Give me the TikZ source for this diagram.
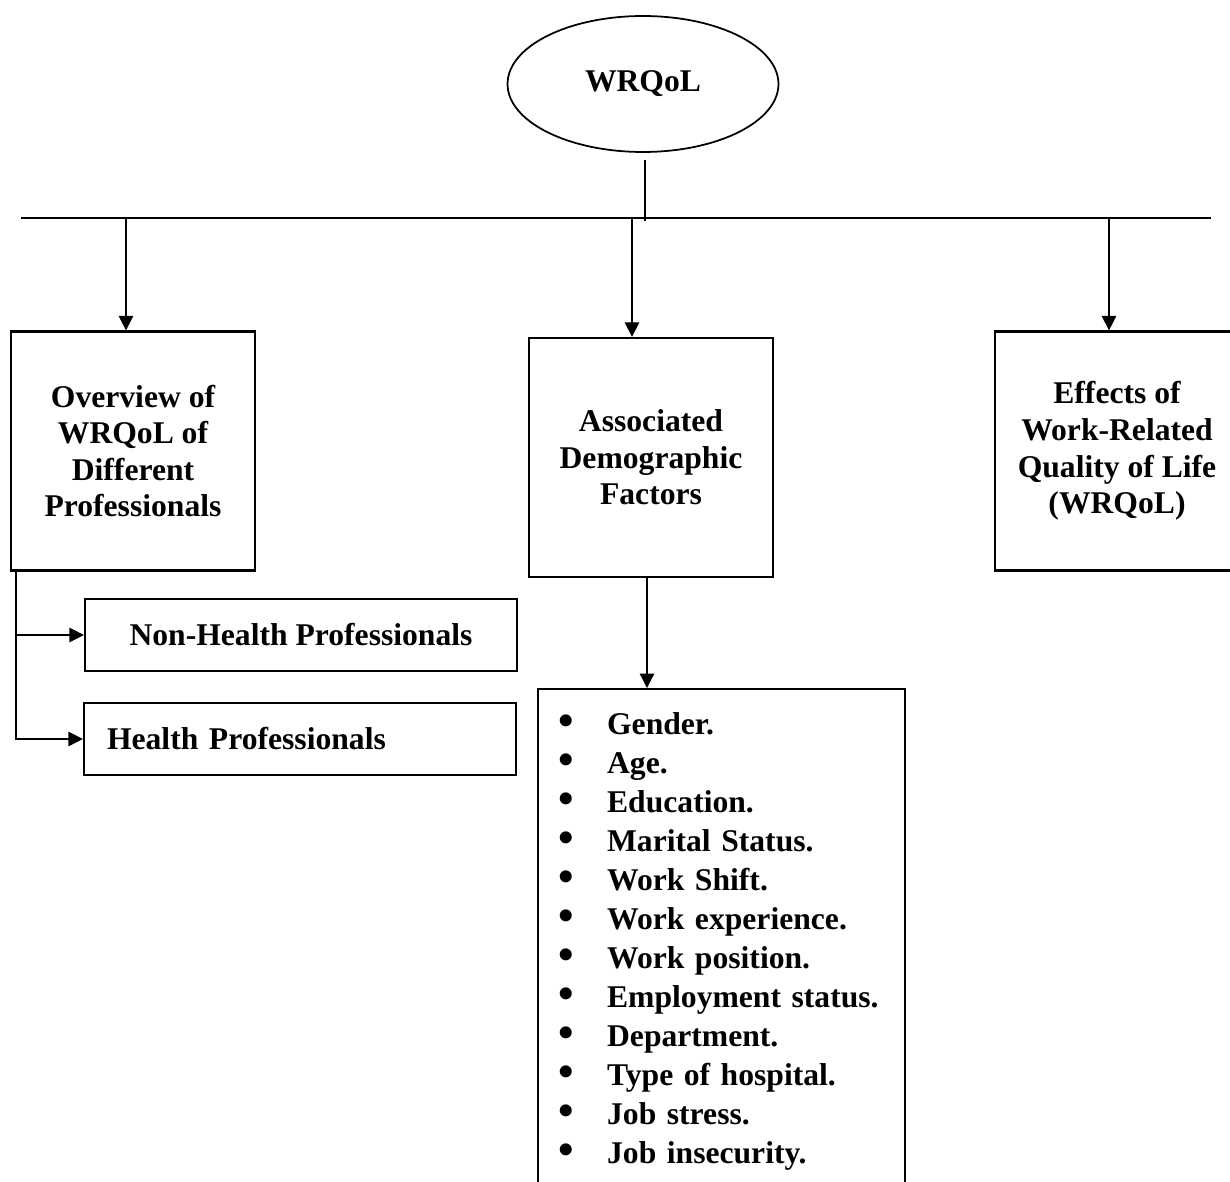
\documentclass[tikz,border=0pt]{standalone}
\usepackage{fontspec}
\setmainfont{Liberation Serif}
\usepackage{tikz}
\usetikzlibrary{arrows.meta, shapes.geometric, positioning}

\newcommand{\factoritem}[1]{\makebox[0.98cm][l]{\raisebox{-0.6pt}{\scalebox{1.4}{\textbullet}}}#1}

\begin{document}
\begin{tikzpicture}[x=0.02cm, y=-0.02cm,
  topic/.style={draw, ellipse, line width=1pt, minimum width=5.42cm, minimum height=2.72cm,
    font=\fontsize{18}{21}\selectfont\bfseries},
  box/.style={draw, line width=1.3pt, minimum width=4.88cm, minimum height=4.78cm, align=center,
    font=\fontsize{18}{20.8}\selectfont\bfseries},
  subbox/.style={draw, line width=1.3pt, minimum width=8.64cm, minimum height=1.44cm,
    font=\fontsize{18}{21}\selectfont\bfseries},
  listbox/.style={draw, line width=1.3pt, inner xsep=0.40cm, inner ysep=0.46cm, text width=6.54cm,
    align=left, font=\fontsize{18}{22.2}\selectfont\bfseries},
  arr/.style={-{Triangle[length=2.9mm, width=2.9mm]}, line width=0.7pt},
  link/.style={line width=0.7pt}]
  \useasboundingbox (0,0) rectangle (1230,1182);
  \clip (0,0) rectangle (1230,1182);

  \node[topic] (wrqol) at (643,84) {WRQoL};
  \coordinate (busL) at (21,218); \coordinate (busR) at (1211,218);
  \coordinate (stem) at (645,221);
  \draw[link] (busL) -- (busR);
  \draw[link, shorten <=0.14cm] (wrqol.south -| stem) -- (stem);

  \node[box] (overview) at (133,451) {Overview of\\WRQoL of\\Different\\Professionals};
  \node[box] (demog) at (651,457.5) {Associated\\Demographic\\Factors};
  \node[box] (effects) at (1117,451) {Effects of\\Work-Related\\Quality of Life\\(WRQoL)};

  \coordinate (d1) at (126,218); \coordinate (d2) at (632,218); \coordinate (d3) at (1109,218);
  \draw[arr] (d1) -- (d1 |- overview.north);
  \draw[arr] (d2) -- (d2 |- demog.north);
  \draw[arr] (d3) -- (d3 |- effects.north);

  \node[subbox] (nonhealth) at (301,635) {Non-Health Professionals};
  \node[subbox, inner xsep=0.46cm, text width=7.72cm, align=left] (health) at (300,739) {Health Professionals};
  \coordinate (trunk) at (16,570);
  \draw[arr] (trunk) |- (nonhealth.west);
  \draw[arr] (trunk) |- (health.west);

  \node[listbox, anchor=north west] (factors) at (537,688) {%
    \factoritem{Gender.}\\ \factoritem{Age.}\\ \factoritem{Education.}\\
    \factoritem{Marital Status.}\\ \factoritem{Work Shift.}\\ \factoritem{Work experience.}\\
    \factoritem{Work position.}\\ \factoritem{Employment status.}\\ \factoritem{Department.}\\
    \factoritem{Type of hospital.}\\ \factoritem{Job stress.}\\ \factoritem{Job insecurity.}\\ \mbox{}};
  \draw[arr] (demog.south -| 647,0) -- (factors.north -| 647,0);
\end{tikzpicture}
\end{document}
